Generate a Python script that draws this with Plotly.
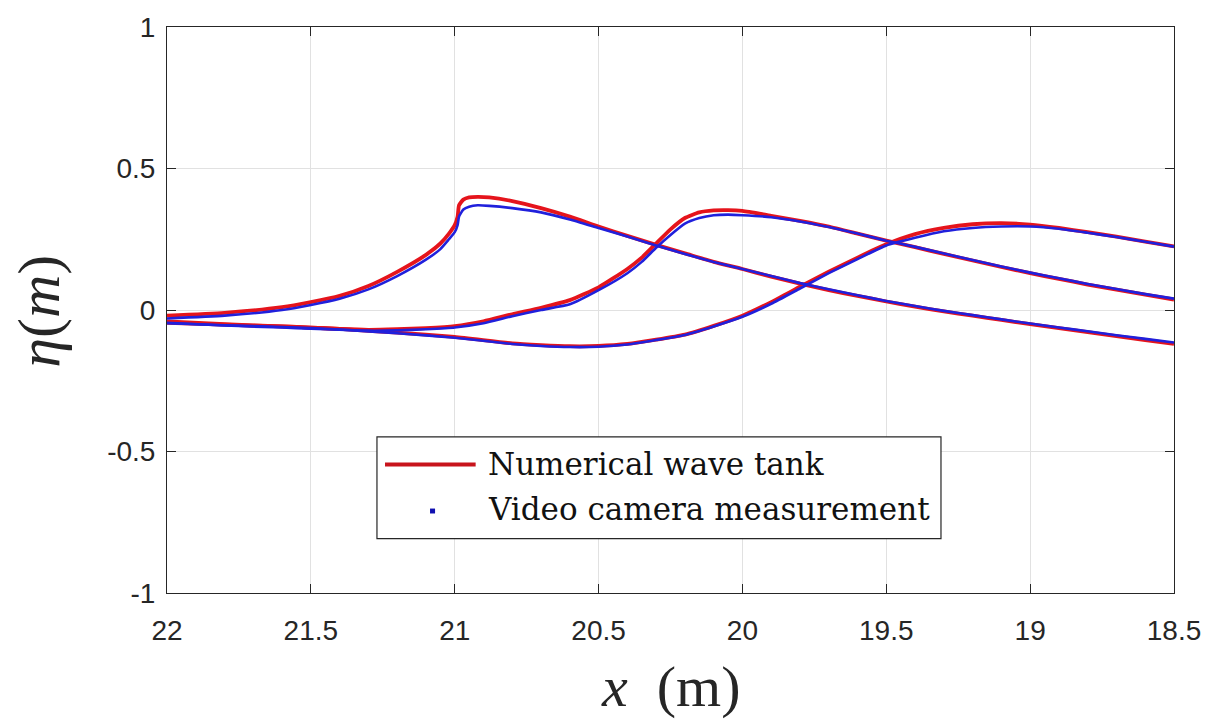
import plotly.graph_objects as go

# ---------------- data ----------------
# Profile 1 (breaking wave, crest near x = 20.95)
x1 = [22.0, 21.8, 21.6, 21.5, 21.4, 21.3, 21.2, 21.1, 21.05, 21.02, 21.0, 20.99, 20.985, 20.97,
      20.95, 20.92, 20.88, 20.8, 20.7, 20.6, 20.5, 20.4, 20.3, 20.2, 20.1, 20.0, 19.9, 19.8,
      19.7, 19.6, 19.5, 19.4, 19.3, 19.2, 19.1, 19.0, 18.9, 18.8, 18.7, 18.6, 18.5]
num1 = [-0.02, -0.01, 0.01, 0.028, 0.05, 0.085, 0.135, 0.195, 0.235, 0.27, 0.30, 0.33, 0.37, 0.39,
        0.398, 0.40, 0.398, 0.385, 0.36, 0.33, 0.295, 0.262, 0.23, 0.20, 0.17, 0.145, 0.118, 0.093,
        0.07, 0.05, 0.03, 0.012, -0.005, -0.02, -0.035, -0.05, -0.064, -0.078, -0.092, -0.106, -0.12]
cam1 = [-0.03, -0.02, 0.0, 0.018, 0.04, 0.073, 0.12, 0.178, 0.215, 0.25, 0.275, 0.30, 0.33, 0.355,
        0.365, 0.37, 0.368, 0.36, 0.345, 0.32, 0.29, 0.26, 0.228, 0.198, 0.17, 0.145, 0.12, 0.095,
        0.073, 0.052, 0.032, 0.014, -0.003, -0.018, -0.033, -0.048, -0.062, -0.075, -0.089, -0.102, -0.115]

# Profile 2 (crest near x = 20.05)
x2 = [22.0, 21.8, 21.6, 21.5, 21.4, 21.3, 21.2, 21.1, 21.0, 20.9, 20.8, 20.7, 20.6, 20.5, 20.4,
      20.35, 20.3, 20.25, 20.2, 20.15, 20.1, 20.05, 20.0, 19.9, 19.8, 19.7, 19.6, 19.5, 19.4,
      19.3, 19.2, 19.1, 19.0, 18.9, 18.8, 18.7, 18.6, 18.5]
num2 = [-0.04, -0.05, -0.058, -0.062, -0.067, -0.07, -0.068, -0.064, -0.057, -0.04, -0.015, 0.008,
        0.035, 0.08, 0.145, 0.185, 0.235, 0.285, 0.325, 0.345, 0.352, 0.353, 0.35, 0.333, 0.315,
        0.295, 0.27, 0.245, 0.222, 0.198, 0.175, 0.152, 0.13, 0.11, 0.09, 0.072, 0.054, 0.037]
cam2 = [-0.045, -0.055, -0.062, -0.066, -0.07, -0.073, -0.072, -0.068, -0.062, -0.047, -0.022, 0.0,
        0.02, 0.07, 0.13, 0.17, 0.22, 0.265, 0.305, 0.325, 0.335, 0.337, 0.335, 0.328, 0.313,
        0.293, 0.27, 0.245, 0.223, 0.2, 0.177, 0.154, 0.132, 0.112, 0.092, 0.074, 0.056, 0.04]

# Profile 3 (crest near x = 19.1)
x3 = [22.0, 21.8, 21.6, 21.5, 21.4, 21.2, 21.0, 20.8, 20.7, 20.6, 20.5, 20.4, 20.3, 20.2, 20.1,
      20.0, 19.9, 19.8, 19.7, 19.6, 19.5, 19.4, 19.3, 19.2, 19.1, 19.0, 18.9, 18.8, 18.7, 18.6, 18.5]
num3 = [-0.045, -0.052, -0.058, -0.062, -0.067, -0.08, -0.095, -0.118, -0.124, -0.128, -0.127,
        -0.12, -0.105, -0.087, -0.056, -0.02, 0.028, 0.082, 0.135, 0.185, 0.232, 0.268, 0.29,
        0.303, 0.307, 0.302, 0.29, 0.275, 0.259, 0.242, 0.225]
cam3 = [-0.047, -0.054, -0.06, -0.064, -0.069, -0.082, -0.098, -0.12, -0.127, -0.131, -0.13,
        -0.122, -0.106, -0.088, -0.058, -0.024, 0.022, 0.076, 0.13, 0.18, 0.228, 0.255, 0.278,
        0.29, 0.295, 0.295, 0.287, 0.273, 0.258, 0.241, 0.224]

x_ticks = [22, 21.5, 21, 20.5, 20, 19.5, 19, 18.5]
x_tick_labels = ["22", "21.5", "21", "20.5", "20", "19.5", "19", "18.5"]
y_ticks = [-1, -0.5, 0, 0.5, 1]
y_tick_labels = ["-1", "-0.5", "0", "0.5", "1"]

legend_labels = ["Numerical wave tank", "Video camera measurement"]

# ---------------- figure ----------------
RED = "#e5141c"
BLUE = "#2020dc"
AX = "#262626"

fig = go.Figure()
for xs, ys in [(x1, num1), (x2, num2), (x3, num3)]:
    fig.add_trace(go.Scatter(x=xs, y=ys, mode="lines",
                             line=dict(color=RED, width=3.8, shape="spline", smoothing=0.5),
                             showlegend=False, hoverinfo="skip"))
for xs, ys in [(x1, cam1), (x2, cam2), (x3, cam3)]:
    fig.add_trace(go.Scatter(x=xs, y=ys, mode="lines",
                             line=dict(color=BLUE, width=2.6, shape="spline", smoothing=0.5),
                             showlegend=False, hoverinfo="skip"))

tickfont = dict(family="Liberation Sans, Arial, sans-serif", size=28, color=AX)
fig.update_xaxes(range=[22, 18.5], tickmode="array", tickvals=x_ticks, ticktext=x_tick_labels,
                 showgrid=True, gridcolor="#e1e1e1", gridwidth=1, zeroline=False,
                 showline=True, linecolor=AX, linewidth=1, mirror="ticks",
                 ticks="inside", ticklen=9, tickcolor=AX, tickfont=tickfont,
                 ticklabelstandoff=12)
fig.update_yaxes(range=[-1, 1], tickmode="array", tickvals=y_ticks, ticktext=y_tick_labels,
                 showgrid=True, gridcolor="#e1e1e1", gridwidth=1, zeroline=False,
                 showline=True, linecolor=AX, linewidth=1, mirror="ticks",
                 ticks="inside", ticklen=9, tickcolor=AX, tickfont=tickfont,
                 ticklabelstandoff=5)

serif = "Liberation Serif, Times New Roman, serif"
annotations = [
    dict(text="<i>x</i>\u00a0\u00a0(m)", x=0.5, y=-0.165, xref="paper", yref="paper",
         xanchor="center", yanchor="middle", showarrow=False,
         font=dict(family=serif, size=58, color=AX)),
    dict(text="<i>\u03b7</i>(<i>m</i>)", x=-0.127, y=0.497, xref="paper", yref="paper",
         xanchor="center", yanchor="middle", showarrow=False, textangle=-90,
         font=dict(family=serif, size=60, color=AX)),
    dict(text=legend_labels[0], x=0.317, y=0.228, xref="paper", yref="paper",
         xanchor="left", yanchor="middle", showarrow=False,
         font=dict(family="DejaVu Serif, serif", size=31, color="#111111")),
    dict(text=legend_labels[1], x=0.317, y=0.148, xref="paper", yref="paper",
         xanchor="left", yanchor="middle", showarrow=False,
         font=dict(family="DejaVu Serif, serif", size=31, color="#111111")),
]

shapes = [
    dict(type="rect", xref="paper", yref="paper", x0=0.2085, x1=0.7686, y0=0.096, y1=0.2757,
         line=dict(color=AX, width=1.2), fillcolor="white", layer="above"),
    dict(type="line", xref="paper", yref="paper", x0=0.2165, x1=0.3065, y0=0.2269, y1=0.2269,
         line=dict(color="#c8141c", width=4), layer="above"),
    dict(type="rect", xref="paper", yref="paper", x0=0.2612, x1=0.2662, y0=0.1405, y1=0.1492,
         line=dict(width=0), fillcolor="#1010b0", layer="above"),
]

fig.update_layout(
    width=1216, height=721,
    margin=dict(l=167, r=42, t=20, b=128),
    paper_bgcolor="white", plot_bgcolor="white",
    showlegend=False,
    annotations=annotations,
    shapes=shapes,
)

fig.write_html("out.html")
